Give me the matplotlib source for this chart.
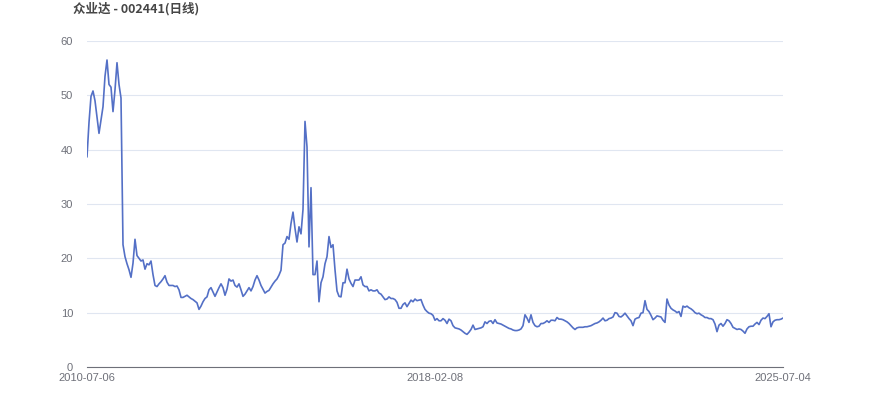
import matplotlib
matplotlib.use("Agg")
import matplotlib.pyplot as plt
import numpy as np

plt.rcParams['font.family'] = ['Liberation Sans', 'Noto Sans CJK SC', 'DejaVu Sans']

title = "众业达 - 002441(日线)"
date_labels = ["2010-07-06", "2018-02-08", "2025-07-04"]
y_ticks = [0, 10, 20, 30, 40, 50, 60]

close = [
    38.7, 45.0, 49.8, 50.8, 49.0, 46.0, 43.0, 45.5, 47.9, 53.5,
    56.5, 52.0, 51.5, 47.0, 51.0, 56.0, 52.0, 49.5, 22.5, 20.3,
    19.0, 17.9, 16.5, 19.1, 23.5, 20.5, 20.0, 19.5, 19.7, 18.0,
    19.0, 18.8, 19.5, 17.0, 15.0, 14.8, 15.3, 15.7, 16.2, 16.8,
    15.6, 15.0, 15.0, 15.0, 14.8, 14.9, 14.2, 12.8, 12.8, 13.0,
    13.2, 12.9, 12.6, 12.4, 12.1, 11.8, 10.6, 11.2, 12.0, 12.6,
    12.9, 14.2, 14.6, 13.8, 13.0, 13.8, 14.6, 15.3, 14.6, 13.2,
    14.3, 16.2, 15.8, 16.0, 15.0, 14.7, 15.3, 14.2, 13.0, 13.4,
    14.0, 14.6, 14.0, 14.8, 16.0, 16.8, 16.0, 15.0, 14.3, 13.6,
    13.9, 14.1, 14.7, 15.3, 15.8, 16.2, 16.9, 17.8, 22.5, 22.8,
    24.0, 23.5, 26.4, 28.5, 25.5, 23.0, 25.8, 24.5, 29.0, 45.2,
    40.5, 22.1, 33.0, 17.0, 17.0, 19.5, 12.0, 15.5, 16.6, 19.0,
    20.3, 24.0, 22.0, 22.5, 17.9, 14.0, 13.0, 12.9, 15.5, 15.5,
    18.0, 16.2, 15.4, 14.8, 16.0, 16.0, 16.0, 16.6, 15.1, 14.8,
    14.8, 14.0, 14.2, 14.0, 14.0, 14.2, 13.6, 13.4, 12.9, 12.4,
    12.5, 12.9, 12.6, 12.6, 12.4, 11.9, 10.8, 10.8, 11.5, 11.8,
    11.1, 11.7, 12.3, 12.0, 12.5, 12.2, 12.3, 12.4, 11.4, 10.6,
    10.2, 9.9, 9.8, 9.5, 8.6, 8.9, 8.5, 8.5, 8.9, 8.6,
    8.0, 8.8, 8.5, 7.6, 7.2, 7.1, 7.0, 6.8, 6.5, 6.2,
    6.0, 6.4, 6.9, 7.7, 6.9, 7.0, 7.1, 7.2, 7.4, 8.3,
    8.0, 8.4, 8.5, 8.0, 8.7, 8.1, 8.0, 7.9, 7.7, 7.5,
    7.3, 7.1, 7.0, 6.8, 6.7, 6.7, 6.8, 7.0, 7.6, 9.6,
    9.0, 8.2, 9.6, 8.2, 7.6, 7.4, 7.5, 8.0, 8.0, 8.2,
    8.5, 8.2, 8.6, 8.6, 8.5, 9.1, 8.8, 8.8, 8.7, 8.5,
    8.3, 8.0, 7.6, 7.2, 6.9, 7.2, 7.3, 7.3, 7.3, 7.4,
    7.4, 7.5, 7.6, 7.8, 8.0, 8.1, 8.3, 8.6, 9.0, 8.5,
    8.6, 8.9, 9.0, 9.2, 10.0, 9.9, 9.3, 9.2, 9.5, 9.9,
    9.4, 8.9, 8.5, 7.6, 8.8, 9.0, 9.1, 9.9, 10.0, 12.2,
    10.6, 10.2, 9.5, 8.7, 9.0, 9.4, 9.3, 9.2, 8.6, 8.2,
    12.5, 11.4, 10.8, 10.5, 10.3, 10.0, 10.2, 9.3, 11.2, 11.0,
    11.2, 10.9, 10.7, 10.4, 10.0, 9.8, 9.9, 9.6, 9.4, 9.1,
    9.1, 8.9, 8.9, 8.7, 7.9, 6.5, 7.7, 8.0, 7.5, 8.0,
    8.7, 8.5, 8.0, 7.3, 7.1, 6.9, 7.0, 6.9, 6.6, 6.2,
    7.0, 7.4, 7.5, 7.5, 7.9, 8.2, 7.8, 8.6, 9.0, 8.9,
    9.3, 9.8, 7.4, 8.3, 8.6, 8.7, 8.7, 8.8, 9.0,
]

idx = np.arange(len(close))

fig = plt.figure(figsize=(8.7, 4.17), dpi=100)
ax = fig.add_axes([0.1, 0.12, 0.8, 0.7817])

ax.plot(idx, close, color='#5470c6', linewidth=1.2)

ax.set_xlim(0, len(close) - 1)
ax.set_ylim(0, 60)
ax.set_yticks(y_ticks)
ax.set_xticks([0, (len(close) - 1) / 2, len(close) - 1])
ax.set_xticklabels(date_labels)

ax.grid(axis='y', color='#E0E6F1', linewidth=0.8)
ax.set_axisbelow(True)
for s in ['top', 'right', 'left']:
    ax.spines[s].set_visible(False)
ax.spines['bottom'].set_color('#6E7079')
ax.spines['bottom'].set_linewidth(0.8)
ax.tick_params(axis='both', length=0, labelsize=8, colors='#6E7079')
ax.tick_params(axis='y', pad=10)
ax.tick_params(axis='x', pad=4)

fig.text(73 / 870, 1 - 9 / 417, title, fontsize=9, fontweight='bold',
         color='#464646', va='center', ha='left',
         family=['Noto Sans CJK SC', 'DejaVu Sans'])

fig.savefig('out.png', dpi=100)
